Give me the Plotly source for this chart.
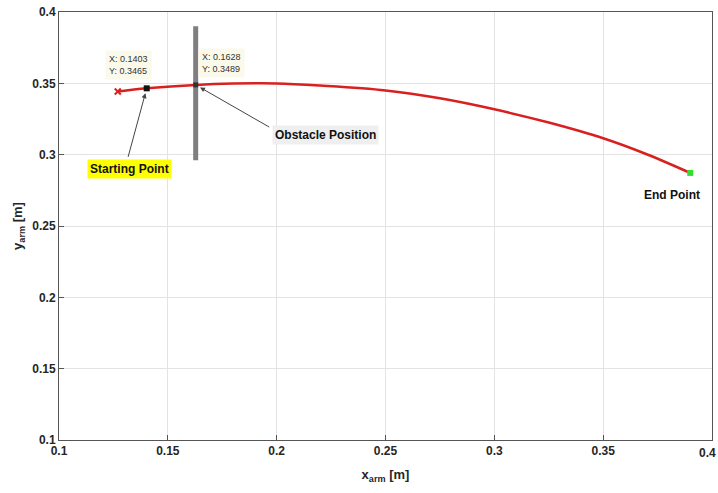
import plotly.graph_objects as go

# Arm end-effector path in the workspace
path_x = [0.127, 0.1403, 0.1628, 0.18, 0.20, 0.22, 0.25, 0.275, 0.30, 0.325, 0.35, 0.37, 0.39]
path_y = [0.3443, 0.3465, 0.3489, 0.3498, 0.3499, 0.3484, 0.3450, 0.3395, 0.3318, 0.3225, 0.3115, 0.3003, 0.2872]

start_pt = (0.127, 0.3443)
end_pt = (0.39, 0.2872)
tip1 = (0.1403, 0.3465)
tip2 = (0.1628, 0.3489)

# Obstacle: vertical bar
obstacle_x = 0.1628
obstacle_y = [0.296, 0.390]

x_ticks = [0.1, 0.15, 0.2, 0.25, 0.3, 0.35, 0.4]
y_ticks = [0.1, 0.15, 0.2, 0.25, 0.3, 0.35, 0.4]

FONT = "Liberation Sans Narrow, Arial Narrow, Liberation Sans, Arial"

fig = go.Figure()

fig.add_trace(go.Scatter(x=[obstacle_x, obstacle_x], y=obstacle_y, mode="lines",
                         line=dict(color="#7f7f7f", width=5), hoverinfo="skip"))
fig.add_trace(go.Scatter(x=path_x, y=path_y, mode="lines", line_shape="spline",
                         line=dict(color="#d92020", width=2.5)))
fig.add_trace(go.Scatter(x=[start_pt[0]], y=[start_pt[1]], mode="markers",
                         marker=dict(symbol="x-thin", size=6, line=dict(color="#e02020", width=2))))
fig.add_trace(go.Scatter(x=[end_pt[0]], y=[end_pt[1]], mode="markers",
                         marker=dict(symbol="square", size=6, color="#33dd33")))
fig.add_trace(go.Scatter(x=[tip1[0]], y=[tip1[1]], mode="markers",
                         marker=dict(symbol="square", size=6, color="#111111")))
fig.add_trace(go.Scatter(x=[tip2[0]], y=[tip2[1]], mode="markers",
                         marker=dict(symbol="square", size=5, color="#333333")))

label_font = dict(family=FONT, size=12, color="#111111")
tip_font = dict(family=FONT, size=9, color="#333333")

annotations = [
    # data tips
    dict(x=tip1[0], y=tip1[1], xref="x", yref="y", showarrow=False,
         text=f"X: {tip1[0]:.4f}<br>Y: {tip1[1]:.4f}", align="left",
         xanchor="left", yanchor="bottom", xshift=-42, yshift=8,
         font=tip_font, bgcolor="#fbfaea", borderpad=3),
    dict(x=tip2[0], y=tip2[1], xref="x", yref="y", showarrow=False,
         text=f"X: {tip2[0]:.4f}<br>Y: {tip2[1]:.4f}", align="left",
         xanchor="left", yanchor="bottom", xshift=2, yshift=7,
         font=tip_font, bgcolor="#fbfaea", borderpad=3),
    # arrows
    dict(x=tip1[0], y=tip1[1], ax=-19, ay=70, xref="x", yref="y", showarrow=True,
         arrowhead=2, arrowsize=1, arrowwidth=1, arrowcolor="#444444", text="", standoff=5),
    dict(x=tip2[0], y=tip2[1], ax=75, ay=43, xref="x", yref="y", showarrow=True,
         arrowhead=2, arrowsize=1, arrowwidth=1, arrowcolor="#444444", text="", standoff=5),
    # labels
    dict(x=0.1129, y=0.2900, xref="x", yref="y", showarrow=False, text="<b>Starting Point</b>",
         xanchor="left", yanchor="middle", bgcolor="#ffff00", borderpad=2, font=label_font),
    dict(x=0.1979, y=0.3138, xref="x", yref="y", showarrow=False, text="<b>Obstacle Position</b>",
         xanchor="left", yanchor="middle", bgcolor="#efefef", borderpad=2, font=label_font),
    dict(x=0.3680, y=0.2717, xref="x", yref="y", showarrow=False, text="<b>End Point</b>",
         xanchor="left", yanchor="middle", font=label_font),
    # last x tick label, kept inside the page edge
    dict(x=1, y=0, xref="paper", yref="paper", showarrow=False, text="<b>0.4</b>",
         xanchor="right", yanchor="top", xshift=6, yshift=-4,
         font=dict(family=FONT, size=12, color="#262626")),
]

fig.update_layout(
    width=718, height=493,
    margin=dict(l=59, r=6, t=12, b=53),
    paper_bgcolor="white", plot_bgcolor="white",
    showlegend=False,
    font=dict(family=FONT, size=12, color="#262626"),
    annotations=annotations,
)

axis_common = dict(
    range=[0.1, 0.4], showgrid=True, gridcolor="#e3e3e3", zeroline=False,
    showline=True, linecolor="#555555", mirror=True, ticks="inside", ticklen=5,
    tickcolor="#555555", tickfont=dict(family=FONT, size=12, color="#262626"),
)
fig.update_xaxes(**axis_common, tickvals=x_ticks,
                 ticktext=[f"<b>{v:g}</b>" for v in x_ticks],
                 title=dict(text="<b>x<sub>arm</sub> [m]</b>", font=dict(family=FONT, size=13), standoff=12))
fig.update_yaxes(**axis_common, tickvals=y_ticks,
                 ticktext=[f"<b>{v:g}</b>" for v in y_ticks],
                 title=dict(text="<b>y<sub>arm</sub> [m]</b>", font=dict(family=FONT, size=13), standoff=6))

fig.write_html("out.html")
